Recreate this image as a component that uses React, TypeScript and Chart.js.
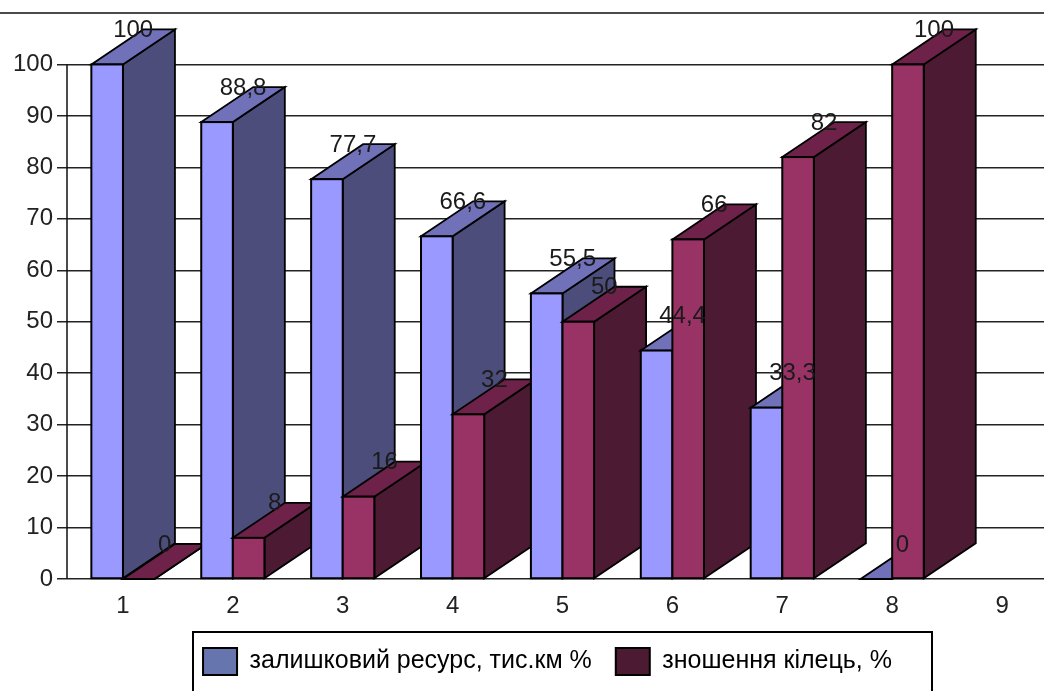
import React, { useEffect, useRef } from "react";
import { Chart, registerables } from "chart.js";

Chart.register(...registerables);

const categories = ["1", "2", "3", "4", "5", "6", "7", "8", "9"];
const residualLabel = "залишковий ресурс, тис.км %";
const wearLabel = "зношення кілець, %";
const residualValues = [100, 88.8, 77.7, 66.6, 55.5, 44.4, 33.3, 0, null];
const wearValues = [0, 8, 16, 32, 50, 66, 82, 100, null];

const FONT = '"Liberation Sans", Arial, sans-serif';
const FACES = [
  { front: "#9999ff", top: "#7171ba", side: "#4d4d7c", legend: "#6675ad" },
  { front: "#993366", top: "#6e2249", side: "#4c1a33", legend: "#4d1a33" },
];
const DEPTH_X = 52;
const DEPTH_Y = -35;
const W = 1057;
const H = 695;

const poly = (ctx: CanvasRenderingContext2D, pts: number[][], fill: string) => {
  ctx.beginPath();
  pts.forEach(([x, y], i) => (i ? ctx.lineTo(x, y) : ctx.moveTo(x, y)));
  ctx.closePath();
  ctx.fillStyle = fill;
  ctx.fill();
  ctx.lineWidth = 1.8;
  ctx.strokeStyle = "#000";
  ctx.stroke();
};

const frame = {
  id: "frame",
  afterLayout(chart: any) {
    const lg = chart.legend;
    lg.left += 19;
    lg.right += 19;
  },
  beforeDatasetsDraw(chart: any) {
    const { ctx, scales } = chart;
    const y = scales.y;
    ctx.save();
    ctx.strokeStyle = "#111";
    ctx.lineWidth = 1.5;
    ctx.beginPath();
    ctx.moveTo(0, y.getPixelForValue(110));
    ctx.lineTo(chart.width, y.getPixelForValue(110));
    ctx.moveTo(chart.chartArea.left - 1, y.getPixelForValue(100));
    ctx.lineTo(chart.chartArea.left - 1, y.getPixelForValue(0));
    ctx.stroke();
    ctx.restore();
  },
  afterDraw(chart: any) {
    const { ctx } = chart;
    ctx.save();
    ctx.strokeStyle = "#000";
    ctx.lineWidth = 2;
    ctx.beginPath();
    ctx.moveTo(193, 720);
    ctx.lineTo(193, 632);
    ctx.lineTo(932, 632);
    ctx.lineTo(932, 720);
    ctx.stroke();
    ctx.restore();
  },
};

const bars3d = {
  id: "bars3d",
  afterDatasetsDraw(chart: any) {
    const { ctx } = chart;
    const sets = chart.data.datasets;
    ctx.save();
    categories.forEach((_, c) => {
      sets.forEach((set: any, s: number) => {
        if (set.data[c] == null) return;
        const el = chart.getDatasetMeta(s).data[c];
        const l = el.x - el.width / 2;
        const r = el.x + el.width / 2;
        const t = el.y;
        const b = el.base;
        const f = FACES[s];
        poly(ctx, [[r, t], [r + DEPTH_X, t + DEPTH_Y], [r + DEPTH_X, b + DEPTH_Y], [r, b]], f.side);
        poly(ctx, [[l, t], [l + DEPTH_X, t + DEPTH_Y], [r + DEPTH_X, t + DEPTH_Y], [r, t]], f.top);
        if (b - t > 0.5) {
          ctx.fillStyle = f.front;
          ctx.fillRect(l, t, r - l, b - t);
          ctx.lineWidth = 2;
          ctx.strokeStyle = "#000";
          ctx.strokeRect(l, t, r - l, b - t);
        }
      });
    });
    ctx.font = `24px ${FONT}`;
    ctx.fillStyle = "#1a1a1a";
    ctx.textAlign = "center";
    ctx.textBaseline = "middle";
    sets.forEach((set: any, s: number) => {
      set.data.forEach((v: number | null, c: number) => {
        if (v == null) return;
        const el = chart.getDatasetMeta(s).data[c];
        ctx.fillText(String(v).replace(".", ","), el.x + DEPTH_X / 2, el.y + DEPTH_Y + 1);
      });
    });
    ctx.restore();
  },
};

export default function App() {
  const ref = useRef<HTMLCanvasElement>(null);
  useEffect(() => {
    const chart = new Chart(ref.current as HTMLCanvasElement, {
      type: "bar",
      data: {
        labels: categories,
        datasets: [
          { label: residualLabel, data: residualValues, backgroundColor: FACES[0].front },
          { label: wearLabel, data: wearValues, backgroundColor: FACES[1].front },
        ],
      },
      options: {
        animation: false,
        responsive: false,
        devicePixelRatio: 1,
        layout: { padding: { top: 13, right: 0, left: 0, bottom: 10 } },
        datasets: { bar: { barPercentage: 1, categoryPercentage: 0.575 } },
        scales: {
          x: {
            afterFit: (s: any) => { s.height = 45; s.paddingLeft = 0; s.paddingRight = 0; },
            grid: { display: false, drawTicks: false },
            border: { display: false },
            ticks: { color: "#222", font: { family: FONT, size: 24 }, padding: 13, maxRotation: 0 },
          },
          y: {
            min: 0,
            max: 110,
            afterFit: (s: any) => { s.width = 68; s.paddingTop = 0; s.paddingBottom = 0; },
            grid: {
              color: (c: any) => (c.tick && c.tick.value === 110 ? "rgba(0,0,0,0)" : "#222"),
              lineWidth: 1.5,
              tickLength: 11,
            },
            border: { display: false },
            ticks: {
              stepSize: 10,
              color: "#222",
              padding: 4,
              font: { family: FONT, size: 24 },
              callback: (v: any) => (v === 110 ? "" : String(v)),
            },
          },
        },
        plugins: {
          tooltip: { enabled: false },
          legend: {
            position: "bottom",
            labels: {
              boxWidth: 34,
              boxHeight: 27,
              padding: 24,
              color: "#000",
              font: { family: FONT, size: 25 },
              generateLabels: (c: any) =>
                c.data.datasets.map((d: any, i: number) => ({
                  text: d.label,
                  fillStyle: FACES[i].legend,
                  strokeStyle: "#000",
                  lineWidth: 2,
                  datasetIndex: i,
                })),
            },
          },
        },
      } as any,
      plugins: [frame, bars3d],
    });
    return () => chart.destroy();
  }, []);
  return (
    <div style={{ position: "absolute", left: 0, top: 0, width: 1044, height: 691, overflow: "hidden", background: "#fff" }}>
      <canvas ref={ref} width={W} height={H} style={{ display: "block" }} />
    </div>
  );
}
